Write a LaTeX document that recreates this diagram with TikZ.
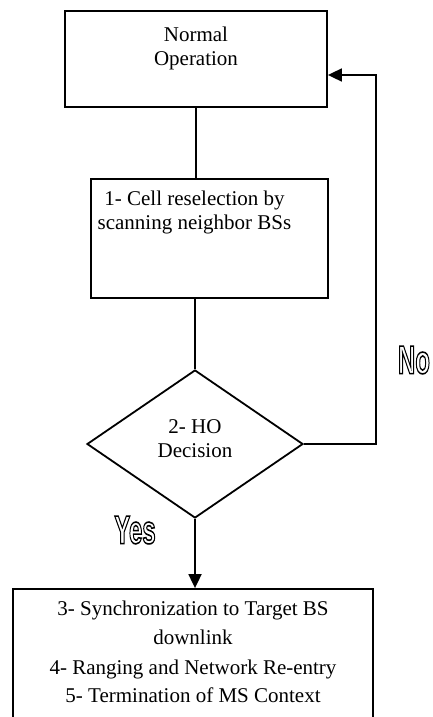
\documentclass[tikz,border=0pt]{standalone}
\usepackage{fontspec}
\setmainfont{Liberation Serif}
\newfontfamily\lblfont{Liberation Sans}
\usetikzlibrary{shapes.geometric,arrows.meta}
\newcommand{\outlinetext}[1]{\special{pdf:literal direct 2 Tr 1.6 w 0 G 1 g}#1\special{pdf:literal direct 0 Tr 0 g 0 G}}
\tikzset{
  box/.style={draw, line width=1.8pt, inner sep=0pt},
  txt/.style={anchor=base, inner sep=0pt, font=\fontsize{21}{24}\selectfont},
  conn/.style={line width=1.8pt},
  arr/.style={conn, -{Triangle[length=14pt,width=13pt]}},
  lbl/.style={inner sep=0pt, font=\lblfont\bfseries\fontsize{40}{42}\selectfont}
}
\begin{document}
\begin{tikzpicture}[x=1pt,y=-1pt]
\clip (0,0) rectangle (433,717);
% boxes
\node[box, minimum width=262pt, minimum height=96pt] (n1) at (196,59) {};
\node[box, minimum width=237pt, minimum height=119pt] (n2) at (209.5,238.5) {};
\node[box, diamond, aspect=1.46, minimum width=216pt, minimum height=148pt] (d) at (195,444) {};
\node[box, minimum width=360pt, minimum height=151pt] (n3) at (193,664.5) {};
% texts
\node[txt] (t1a) at (196,42) {Normal};
\node[txt] (t1b) at (196,66) {Operation};
\node[txt] (t2a) at (194.5,205) {1- Cell reselection by};
\node[txt] (t2b) at (194.5,229) {scanning neighbor BSs};
\node[txt] (tda) at (195,433) {2- HO};
\node[txt] (tdb) at (195,457) {Decision};
\node[txt] (t3a) at (193,615) {3- Synchronization to Target BS};
\node[txt] (t3b) at (193,644) {downlink};
\node[txt] (t3c) at (193,674) {4- Ranging and Network Re-entry};
\node[txt] (t3d) at (193,702) {5- Termination of MS Context};
% connectors
\draw[conn] (n1.south) -- (n1.south |- n2.north);
\draw[conn] (d.north |- n2.south) -- (d.north);
\coordinate (ret) at (376,75);
\draw[arr] (d.east) -| (ret) -- (ret -| n1.east);
\draw[arr] (d.south) -- (d.south |- n3.north);
% labels
\node[lbl] (no) at (414,360) {\scalebox{0.6}[1]{\outlinetext{No}}};
\node[lbl] (yes) at (135,530) {\scalebox{0.6}[1]{\outlinetext{Yes}}};
\end{tikzpicture}
\end{document}
